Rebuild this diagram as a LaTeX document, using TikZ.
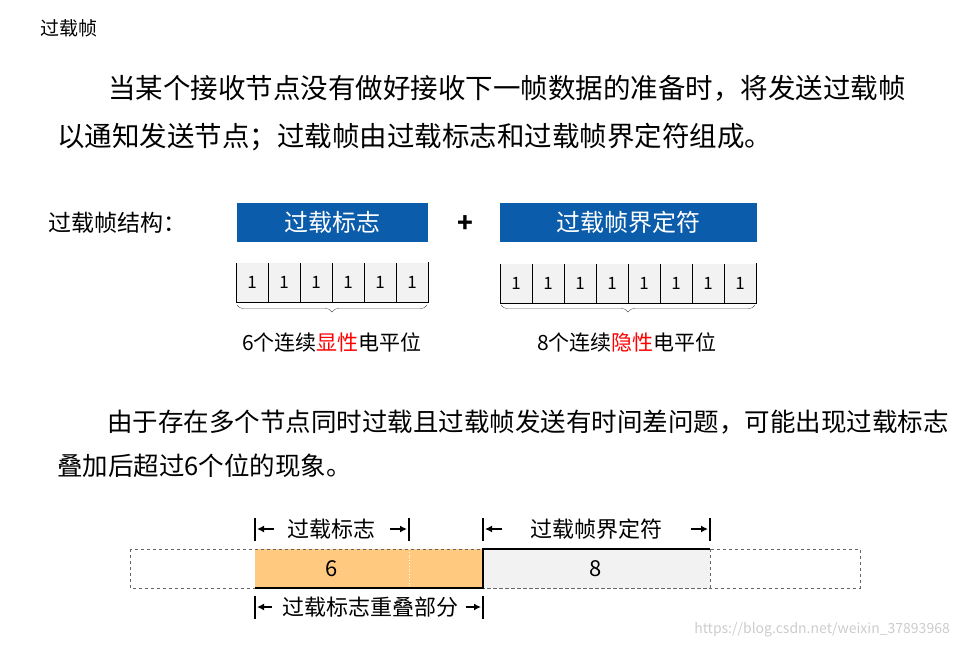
\documentclass[tikz,border=0pt]{standalone}
\usepackage{fontspec}
\setmainfont{Noto Sans CJK SC}
\usetikzlibrary{decorations.pathreplacing,arrows.meta}
\definecolor{hdr}{HTML}{0B5CAB}
\definecolor{cellg}{HTML}{F2F2F2}
\definecolor{org}{HTML}{FFC97F}
\begin{document}
\begin{tikzpicture}[x=1pt,y=-1pt,
  hbox/.style={fill=hdr,text=white,minimum height=39pt,inner sep=0pt,font=\fontsize{24}{24}\selectfont},
  cell/.style={draw=black,fill=cellg,minimum width=32pt,minimum height=40pt,inner sep=0pt,font=\fontsize{17}{17}\selectfont},
  para/.style={anchor=west,inner sep=0pt,font=\fontsize{27.5}{27.5}\selectfont},
  lab/.style={inner sep=0pt,font=\fontsize{21}{21}\selectfont},
  blab/.style={inner sep=0pt,font=\fontsize{22}{22}\selectfont},
  arr/.style={-{Latex[length=7pt,width=7pt]},line width=1.5pt},
  bar/.style={line width=1.5pt}]
\useasboundingbox (0,0) rectangle (960,648);
\node[anchor=west,inner sep=0pt,font=\fontsize{19}{19}\selectfont] (t) at (40,28) {过载帧};
\node[para] (p1) at (108,88) {当某个接收节点没有做好接收下一帧数据的准备时，将发送过载帧};
\node[para] (p2) at (57,137) {以通知发送节点；过载帧由过载标志和过载帧界定符组成。};
\node[anchor=west,inner sep=0pt,font=\fontsize{23}{23}\selectfont] (s) at (48,223) {过载帧结构：};
\node[hbox,minimum width=191pt,anchor=west] (h1) at (237,222.5) {过载标志};
\node[hbox,minimum width=257pt,anchor=west] (h2) at (500,222.5) {过载帧界定符};
\node[font=\fontsize{26}{26}\selectfont\bfseries] (plus) at (465,224) {+};
\foreach \i in {0,...,5}{\node[cell] (a\i) at (252+32*\i,282) {1};}
\foreach \i in {0,...,7}{\node[cell] (b\i) at (516+32*\i,283) {1};}
\draw[white,line width=1.2pt] (236,262) -- (428,262) (500,263) -- (756,263);
\draw[decorate,decoration={brace,mirror,amplitude=7pt},gray!70!black] (237,305) -- (427,305);
\draw[decorate,decoration={brace,mirror,amplitude=7pt},gray!70!black] (501,305) -- (755,305);
\node[lab] (l1) at (332,342) {6个连续\textcolor{red}{显性}电平位};
\node[lab] (l2) at (627,342) {8个连续\textcolor{red}{隐性}电平位};
\node[para,font=\fontsize{25.5}{25.5}\selectfont] (p3) at (107,422) {由于存在多个节点同时过载且过载帧发送有时间差问题，可能出现过载标志};
\node[para,font=\fontsize{25.5}{25.5}\selectfont] (p4) at (57,466) {叠加后超过6个位的现象。};
% bottom
\draw[dashed,gray!80!black,thick] (130,549) rectangle (860,588);
\fill[org] (255,549) rectangle (483,588);
\fill[cellg] (483,549) rectangle (710,588);
\draw[dashed,gray!80!black,thick] (255,549) -- (483,549) (710,549) -- (710,588) -- (483,588);
\draw[dotted,white,thick] (409,549) -- (409,588);
\draw[line width=1.5pt] (255,588) -- (483,588) -- (483,549) -- (710,549);
\node[blab] (n6) at (332,569) {6};
\node[blab] (n8) at (596,569) {8};
\node[blab] (tl1) at (331,529) {过载标志};
\node[blab] (tl2) at (596,529) {过载帧界定符};
\node[blab] (bl) at (370,607) {过载标志重叠部分};
\draw[bar] (255,518) -- (255,541) (409,518) -- (409,541);
\draw[arr] (274,529) -- (257,529); \draw[arr] (390,529) -- (407,529);
\draw[bar] (483,518) -- (483,541) (710,518) -- (710,541);
\draw[arr] (502,529) -- (485,529); \draw[arr] (691,529) -- (708,529);
\draw[bar] (255,596) -- (255,619) (483,596) -- (483,619);
\draw[arr] (272,607) -- (257,607); \draw[arr] (466,607) -- (481,607);
\node[anchor=east,inner sep=0pt,text=gray!40,font=\fontsize{14}{14}\selectfont] (wm) at (950,630) {https://blog.csdn.net/weixin\_37893968};
\end{tikzpicture}
\end{document}
